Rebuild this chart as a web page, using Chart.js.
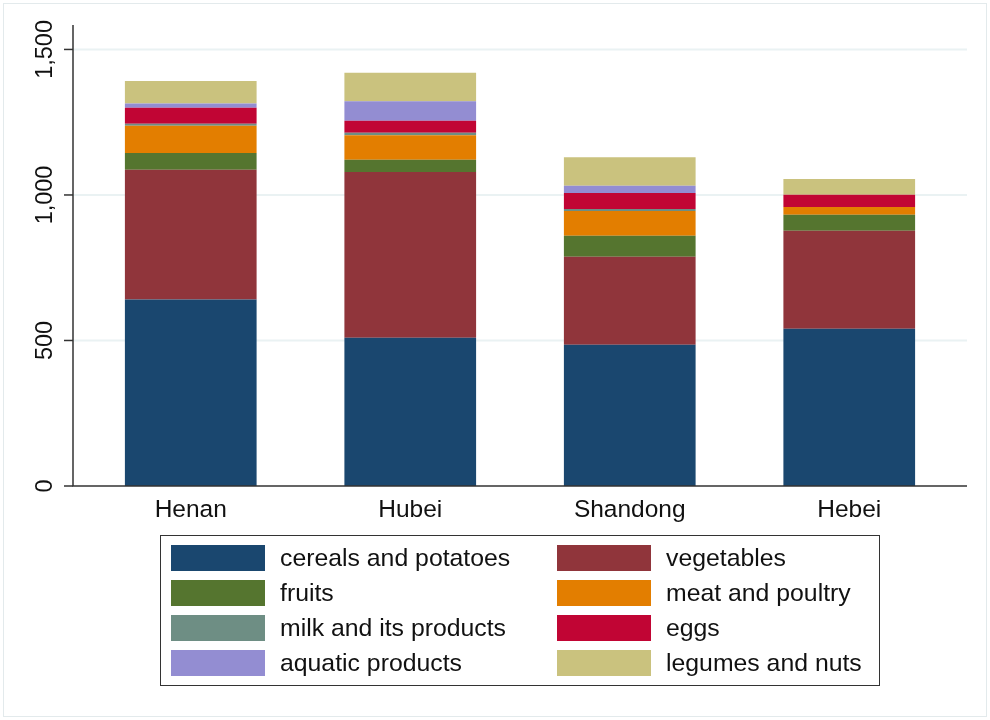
<!DOCTYPE html>
<html>
<head>
<meta charset="utf-8">
<script src="https://cdn.jsdelivr.net/npm/chart.js@4"></script>
<style>
  body { margin: 0; background: #fff; font-family: "Liberation Sans", Arial, sans-serif; }
  #wrap { position: relative; width: 990px; height: 720px; }
  #frame { position: absolute; left: 3px; top: 3px; width: 982px; height: 712px; border: 1px solid #e3eaec; }
  #legend {
    position: absolute; left: 160px; top: 535px; width: 720px; height: 151px;
    box-sizing: border-box; border: 1.5px solid #333; padding: 9px 0 0 10px;
    display: grid; grid-template-columns: 386px 320px; grid-auto-rows: 35px;
  }
  .item { display: flex; align-items: center; height: 26px; }
  .sw { width: 94px; height: 26px; margin-right: 15px; flex: none; }
  .lab { font-size: 24.8px; color: #111; white-space: nowrap; }
</style>
</head>
<body>
<div id="wrap">
  <div id="frame"></div>
  <canvas id="foodChart" width="990" height="720"></canvas>
  <div id="legend"></div>
</div>
<script>
const provinces = ['Henan', 'Hubei', 'Shandong', 'Hebei'];
const foodGroups = ['cereals and potatoes', 'vegetables', 'fruits', 'meat and poultry',
  'milk and its products', 'eggs', 'aquatic products', 'legumes and nuts'];
const groupColors = ['#1a476f', '#90353b', '#55752f', '#e37e00', '#6e8e84', '#c10534', '#938dd2', '#cac27e'];

// one array per food group, values by province (Henan, Hubei, Shandong, Hebei)
const cereals = [641, 509, 485, 540];
const vegetables = [446, 570, 303, 337];
const fruits = [57, 42, 72, 55];
const meat = [94, 84, 85, 27];
const milk = [7, 9, 7, 0];
const eggs = [55, 41, 55, 42];
const aquatic = [14, 67, 25, 0];
const legumes = [78, 98, 98, 54];

const yTicks = [0, 500, 1000, 1500];
const yMax = 1584;

const seriesValues = [cereals, vegetables, fruits, meat, milk, eggs, aquatic, legumes];

// stata-like axes drawn from the chart's own scales
const stataAxes = {
  id: 'stataAxes',
  beforeDatasetsDraw(chart) {
    const { ctx, chartArea, scales } = chart;
    ctx.save();
    ctx.strokeStyle = '#eaf2f3';
    ctx.lineWidth = 2;
    yTicks.forEach(v => {
      if (v === 0) return;
      const y = scales.y.getPixelForValue(v);
      ctx.beginPath();
      ctx.moveTo(chartArea.left - 8, y);
      ctx.lineTo(chartArea.right + 8, y);
      ctx.stroke();
    });
    ctx.restore();
  },
  afterDraw(chart) {
    const { ctx, chartArea, scales } = chart;
    const axisX = chartArea.left - 8;
    ctx.save();
    ctx.strokeStyle = '#333';
    ctx.lineWidth = 1.5;
    ctx.beginPath();
    ctx.moveTo(axisX, chartArea.top);
    ctx.lineTo(axisX, chartArea.bottom);
    ctx.lineTo(chartArea.right + 8, chartArea.bottom);
    ctx.stroke();

    ctx.fillStyle = '#111';
    ctx.font = '23.5px "Liberation Sans", Arial, sans-serif';
    ctx.textAlign = 'center';
    ctx.textBaseline = 'middle';
    yTicks.forEach(v => {
      const y = scales.y.getPixelForValue(v);
      ctx.beginPath();
      ctx.moveTo(axisX - 9, y);
      ctx.lineTo(axisX, y);
      ctx.stroke();
      ctx.save();
      ctx.translate(axisX - 27, y);
      ctx.rotate(-Math.PI / 2);
      ctx.fillText(v.toLocaleString('en-US'), 0, 0);
      ctx.restore();
    });

    ctx.font = '24.5px "Liberation Sans", Arial, sans-serif';
    provinces.forEach((p, i) => {
      ctx.fillText(p, scales.x.getPixelForTick(i), chartArea.bottom + 24);
    });
    ctx.restore();
  }
};

const ctx = document.getElementById('foodChart').getContext('2d');
const chart = new Chart(ctx, {
  type: 'bar',
  data: {
    labels: provinces,
    datasets: foodGroups.map((name, i) => ({
      label: name,
      data: seriesValues[i],
      backgroundColor: groupColors[i],
      borderWidth: 0,
      barPercentage: 0.6,
      categoryPercentage: 1
    }))
  },
  options: {
    responsive: false,
    animation: false,
    layout: { padding: { left: 81, right: 31, top: 25, bottom: 234 } },
    plugins: { legend: { display: false }, tooltip: { enabled: false } },
    scales: {
      x: { stacked: true, display: false },
      y: { stacked: true, display: false, min: 0, max: yMax }
    }
  },
  plugins: [stataAxes]
});

// two-column legend built from the datasets
const legendEl = document.getElementById('legend');
chart.data.datasets.forEach(ds => {
  const item = document.createElement('div');
  item.className = 'item';
  item.innerHTML = `<span class="sw" style="background:${ds.backgroundColor}"></span><span class="lab">${ds.label}</span>`;
  legendEl.appendChild(item);
});
</script>
</body>
</html>
